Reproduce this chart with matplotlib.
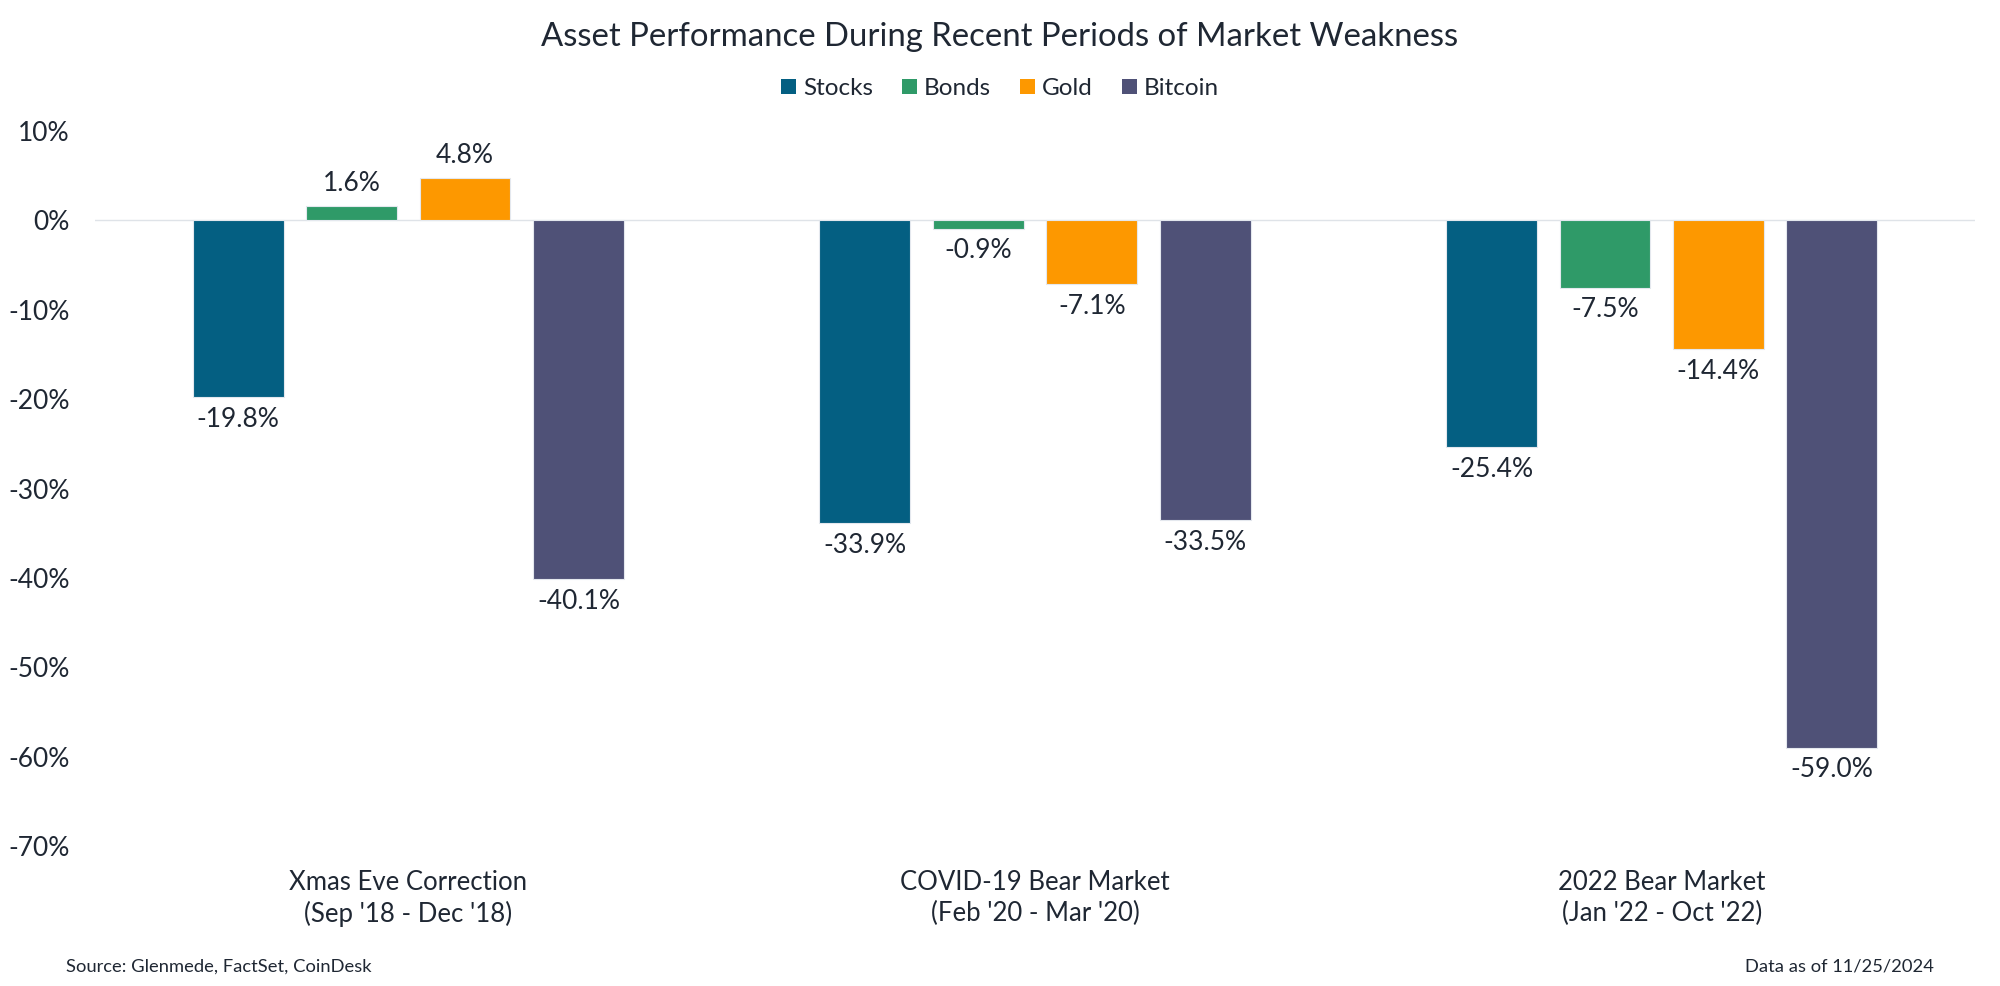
import numpy as np
import matplotlib.pyplot as plt
from matplotlib.patches import Patch
from matplotlib.ticker import FuncFormatter

plt.rcParams['font.family'] = ['Lato', 'DejaVu Sans']

# data
periods = ["Xmas Eve Correction\n(Sep '18 - Dec '18)",
           "COVID-19 Bear Market\n(Feb '20 - Mar '20)",
           "2022 Bear Market\n(Jan '22 - Oct '22)"]
assets = ["Stocks", "Bonds", "Gold", "Bitcoin"]
stocks = [-19.8, -33.9, -25.4]
bonds = [1.6, -0.9, -7.5]
gold = [4.8, -7.1, -14.4]
bitcoin = [-40.1, -33.5, -59.0]
yticks = [10, 0, -10, -20, -30, -40, -50, -60, -70]

colors = ["#045f82", "#2f9a68", "#fd9800", "#4f5177"]
txt = "#1f2733"

fig = plt.figure(figsize=(20, 9.86), dpi=100)
ax = fig.add_axes([0.0475, 0.142, 0.94, 0.725])

x = np.arange(len(periods))
width = 0.145
step = 0.181
series = [stocks, bonds, gold, bitcoin]

for i, (name, vals) in enumerate(zip(assets, series)):
    pos = x + (i - 1.5) * step
    ax.bar(pos, vals, width, color=colors[i], edgecolor="#e4e8ee", linewidth=0.8, zorder=3)
    for p, v in zip(pos, vals):
        if v >= 0:
            ax.annotate(f"{v:.1f}%", (p, v), xytext=(0, 7), textcoords="offset points",
                        ha="center", va="bottom", fontsize=19, color=txt)
        else:
            ax.annotate(f"{v:.1f}%", (p, v), xytext=(0, -7), textcoords="offset points",
                        ha="center", va="top", fontsize=19, color=txt)

ax.axhline(0, color="#dfe3e8", linewidth=1.0, zorder=2)
ax.set_xlim(-0.5, 2.5)
ax.set_ylim(-70, 10)
ax.set_yticks(yticks)
ax.yaxis.set_major_formatter(FuncFormatter(lambda v, _: f"{v:.0f}%"))
ax.set_xticks(x)
ax.set_xticklabels(periods, fontsize=18.5, color=txt, linespacing=1.3)
ax.tick_params(axis="y", labelsize=19, labelcolor=txt, length=0, pad=18)
ax.tick_params(axis="x", length=0, pad=17)
for s in ax.spines.values():
    s.set_visible(False)

fig.text(0.5, 0.962, "Asset Performance During Recent Periods of Market Weakness",
         ha="center", va="center", fontsize=23.7, color=txt)

handles = [Patch(facecolor=c, label=a) for a, c in zip(assets, colors)]
fig.legend(handles=handles, loc="center", bbox_to_anchor=(0.5, 0.91), ncol=4, frameon=False,
           fontsize=17.5, handlelength=0.6, handleheight=0.6, handletextpad=0.3,
           columnspacing=1.2, labelcolor=txt)

fig.text(0.033, 0.02, "Source: Glenmede, FactSet, CoinDesk", ha="left", va="center",
         fontsize=13.2, color=txt)
fig.text(0.967, 0.02, "Data as of 11/25/2024", ha="right", va="center",
         fontsize=13.2, color=txt)

fig.savefig("out.png", dpi=100, facecolor="white")
